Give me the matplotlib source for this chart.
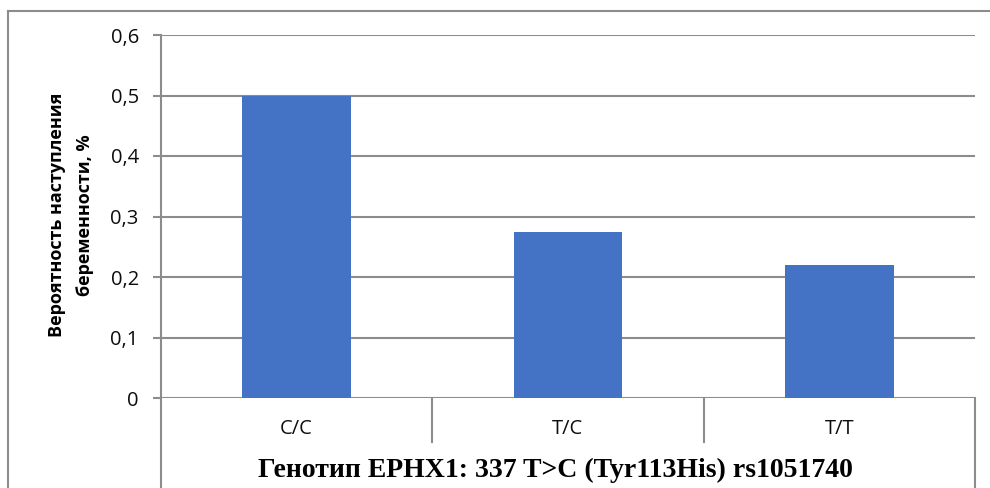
import matplotlib
matplotlib.use("Agg")
import matplotlib.pyplot as plt
from matplotlib.lines import Line2D

genotypes = ["C/C", "T/C", "T/T"]
probability = [0.50, 0.275, 0.22]
y_ticks = [0, 0.1, 0.2, 0.3, 0.4, 0.5, 0.6]
y_tick_labels = ["0", "0,1", "0,2", "0,3", "0,4", "0,5", "0,6"]
y_label_lines = ["Вероятность наступления", "беременности, %"]
x_label = "Генотип EPHX1: 337 T>C (Tyr113His) rs1051740"

W, H = 990, 488
fig = plt.figure(figsize=(W / 100, H / 100), dpi=100)
fig.patch.set_facecolor("white")

grid_col = "#8c8c8c"
bar_col = "#4472C4"
txt_col = "#0d0d0d"

ax_l, ax_r, ax_t, ax_b = 161, 975, 35, 398
ax = fig.add_axes([ax_l / W, 1 - ax_b / H, (ax_r - ax_l) / W, (ax_b - ax_t) / H])

x = range(len(genotypes))
ax.bar(x, probability, width=0.4, color=bar_col, zorder=3)
ax.set_xlim(-0.5, len(genotypes) - 0.5)
ax.set_ylim(0, 0.6)

ax.set_yticks(y_ticks)
ax.set_yticklabels(y_tick_labels, fontsize=14.5, color=txt_col, family="Open Sans")
ax.tick_params(axis="y", length=6, width=1.5, color=grid_col, pad=10)
ax.set_xticks([])
for s in ax.spines.values():
    s.set_visible(False)
for v in y_ticks:
    ax.axhline(v, color=grid_col, lw=1.5, zorder=1)

# category labels and separators below the axis
for i, g in enumerate(genotypes):
    ax.text(i, -(429 - ax_b) / (ax_b - ax_t), g, transform=ax.get_xaxis_transform(),
            ha="center", va="center", fontsize=14.5, color=txt_col, family="Open Sans")
trans = ax.get_xaxis_transform()
fig_bottom = -(H - ax_b) / (ax_b - ax_t)
sep_bottom = -(442 - ax_b) / (ax_b - ax_t)
ax.add_line(Line2D([-0.5, -0.5], [1, fig_bottom], transform=trans, color=grid_col,
                   lw=1.5, clip_on=False, zorder=2))
ax.add_line(Line2D([len(genotypes) - 0.5] * 2, [0, fig_bottom], transform=trans,
                   color=grid_col, lw=1.5, clip_on=False, zorder=2))
for b in range(1, len(genotypes)):
    ax.add_line(Line2D([b - 0.5, b - 0.5], [0, sep_bottom], transform=trans,
                       color=grid_col, lw=1.5, clip_on=False, zorder=2))

# axis titles
fig.text(57 / W, 1 - 215 / H, y_label_lines[0], rotation=90, ha="center", va="center",
         fontsize=13, fontweight="bold", color="black", family="Open Sans")
fig.text(85 / W, 1 - 215 / H, y_label_lines[1], rotation=90, ha="center", va="center",
         fontsize=13, fontweight="bold", color="black", family="Open Sans")
fig.text(555 / W, 1 - 477 / H, x_label, ha="center", va="baseline",
         fontsize=20, fontweight="bold", color="black", family="Liberation Serif")

# outer frame
fig.add_artist(Line2D([8 / W, 1], [1 - 11 / H] * 2, transform=fig.transFigure,
                      color=grid_col, lw=1.5))
fig.add_artist(Line2D([8 / W] * 2, [0, 1 - 11 / H], transform=fig.transFigure,
                      color=grid_col, lw=1.5))

fig.savefig("out.png", dpi=100, facecolor="white")
